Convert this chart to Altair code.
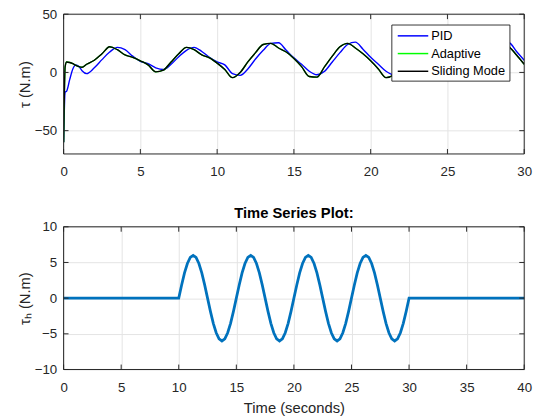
import altair as alt
import pandas as pd

# ---------------- top panel data ----------------
T_TOP = [0, 0.1, 0.2, 0.4, 0.6, 0.8, 1.0, 1.2, 1.5, 2.0, 2.5, 3.0, 3.5, 4.0, 4.5,
         5.0, 5.5, 6.0, 6.5, 7.0, 7.5, 8.0, 8.5, 9.0, 9.5, 10.0, 10.5, 11.0, 11.5,
         12.0, 12.5, 13.0, 13.5, 14.0, 14.5, 15.0, 15.5, 16.0, 16.5, 17.0, 17.5,
         18.0, 18.5, 19.0, 19.5, 20.0, 20.5, 21.0, 21.5, 22.0, 22.5, 23.0, 23.5,
         24.0, 24.5, 25.0, 25.5, 26.0, 26.5, 27.0, 27.5, 28.0, 28.5, 29.0, 29.5, 30.0]

PID = [-60, -17, -16, -6, 3, 6.5, 5, 1.5, -1, 4, 11, 17.5, 21.5, 19.5, 14,
       9.5, 7.5, 4, 2.5, 7, 13.5, 19, 21.5, 18, 13, 9, 6.5, -1, -2.5,
       3, 11.5, 19, 25, 25.5, 19, 12.5, 7, 1, -2, 1, 9,
       17, 24, 26, 20, 13, 7, 1, -2, 2, 10, 18, 24,
       26, 20, 13, 7, 1, -2, 2, 10, 18, 24, 25.5, 18, 10.5]

ADAPTIVE = [-60, 5, 9, 8.5, 7.5, 6, 5, 4.5, 7, 10.5, 16, 22, 19.5, 15, 13,
            10, 6.5, 0.5, 2, 9, 16, 21.5, 19.5, 15, 12.5, 8, 2.5, -4.5, 0,
            9, 17, 24, 25, 21, 17.5, 12, 5, -3.5, -4, 5, 14,
            22, 25, 21, 16, 10, 3, -4.5, -2, 8, 16, 23, 25,
            21, 17, 11, 4, -4.5, -2, 6, 15, 22, 25, 22, 15, 7]

SLIDING = [-60, 5, 9, 8.5, 7.5, 6, 5, 4.5, 7, 10.5, 16, 22, 19.5, 15, 13,
           10, 6.5, 0.5, 2, 9, 16, 21.5, 19.5, 15, 12.5, 8, 2.5, -4.5, 0,
           9, 17, 24, 25, 21, 17.5, 12, 5, -3.5, -4, 5, 14,
           22, 25, 21, 16, 10, 3, -4.5, -2, 8, 16, 23, 25,
           21, 17, 11, 4, -4.5, -2, 6, 15, 22, 25, 22, 15, 7]

SERIES = ["PID", "Adaptive", "Sliding Mode"]
COLORS = ["#0000FF", "#00FF00", "#000000"]

TOP_XTICKS = [0, 5, 10, 15, 20, 25, 30]
TOP_YTICKS = [-50, 0, 50]

# ---------------- bottom panel data ----------------
T_BOT = [0, 10.0, 10.25, 10.5, 10.75, 11.0, 11.25, 11.5, 11.75, 12.0, 12.25, 12.5, 12.75,
         13.0, 13.25, 13.5, 13.75, 14.0, 14.25, 14.5, 14.75,
         15.0, 15.25, 15.5, 15.75, 16.0, 16.25, 16.5, 16.75, 17.0, 17.25, 17.5, 17.75,
         18.0, 18.25, 18.5, 18.75, 19.0, 19.25, 19.5, 19.75,
         20.0, 20.25, 20.5, 20.75, 21.0, 21.25, 21.5, 21.75, 22.0, 22.25, 22.5, 22.75,
         23.0, 23.25, 23.5, 23.75, 24.0, 24.25, 24.5, 24.75,
         25.0, 25.25, 25.5, 25.75, 26.0, 26.25, 26.5, 26.75, 27.0, 27.25, 27.5, 27.75,
         28.0, 28.25, 28.5, 28.75, 29.0, 29.25, 29.5, 29.75, 30.0, 40]

TAU_H = [0, 0, 1.85, 3.53, 4.85, 5.71, 6.0, 5.71, 4.85, 3.53, 1.85, 0, -1.85,
         -3.53, -4.85, -5.71, -6.0, -5.71, -4.85, -3.53, -1.85,
         0, 1.85, 3.53, 4.85, 5.71, 6.0, 5.71, 4.85, 3.53, 1.85, 0, -1.85,
         -3.53, -4.85, -5.71, -6.0, -5.71, -4.85, -3.53, -1.85,
         0, 1.85, 3.53, 4.85, 5.71, 6.0, 5.71, 4.85, 3.53, 1.85, 0, -1.85,
         -3.53, -4.85, -5.71, -6.0, -5.71, -4.85, -3.53, -1.85,
         0, 1.85, 3.53, 4.85, 5.71, 6.0, 5.71, 4.85, 3.53, 1.85, 0, -1.85,
         -3.53, -4.85, -5.71, -6.0, -5.71, -4.85, -3.53, -1.85, 0, 0]

BOT_XTICKS = [0, 5, 10, 15, 20, 25, 30, 35, 40]
BOT_YTICKS = [-10, -5, 0, 5, 10]

FONT = "Liberation Sans"
TXT = "#262626"
FRAME = "#262626"
W = 468
H_TOP, H_BOT = 142, 145
TICK = 5


def frame_layers(w, h, xticks, yticks, xenc_axis, yenc_axis, xscale, yscale):
    """Box around the plot area plus MATLAB-style inward ticks on all four sides."""
    box = (
        alt.Chart(pd.DataFrame({"k": [0]}))
        .mark_rect(fillOpacity=0, stroke=FRAME, strokeWidth=1)
        .encode(x=alt.value(0), x2=alt.value(w), y=alt.value(0), y2=alt.value(h))
    )
    xt = pd.DataFrame({"t": xticks})
    yt = pd.DataFrame({"v": yticks})
    X = alt.X("t:Q", scale=xscale, axis=xenc_axis)
    Y = alt.Y("v:Q", scale=yscale, axis=yenc_axis)
    rule = dict(color=FRAME, strokeWidth=1)
    xb = alt.Chart(xt).mark_rule(**rule).encode(x=X, y=alt.value(h), y2=alt.value(h - TICK))
    xtp = alt.Chart(xt).mark_rule(**rule).encode(x=X, y=alt.value(0), y2=alt.value(TICK))
    yl = alt.Chart(yt).mark_rule(**rule).encode(y=Y, x=alt.value(0), x2=alt.value(TICK))
    yr = alt.Chart(yt).mark_rule(**rule).encode(y=Y, x=alt.value(w - TICK), x2=alt.value(w))
    return [box, xb, xtp, yl, yr]


# ---------------- top panel ----------------
df_top = pd.DataFrame({
    "t": T_TOP * 3,
    "v": PID + ADAPTIVE + SLIDING,
    "s": ["PID"] * len(T_TOP) + ["Adaptive"] * len(T_TOP) + ["Sliding Mode"] * len(T_TOP),
})

xs_top = alt.Scale(domain=[0, 30], nice=False)
ys_top = alt.Scale(domain=[-70, 50], nice=False)
xax_top = alt.Axis(values=TOP_XTICKS, title=None)
yax_top = alt.Axis(values=TOP_YTICKS, title="τ (N.m)")
cscale = alt.Scale(domain=SERIES, range=COLORS)

lines = [
    alt.Chart(df_top)
    .transform_filter(alt.datum.s == name)
    .mark_line(strokeWidth=1.4, interpolate="monotone", clip=True)
    .encode(
        x=alt.X("t:Q", scale=xs_top, axis=xax_top),
        y=alt.Y("v:Q", scale=ys_top, axis=yax_top),
        color=alt.Color("s:N", scale=cscale, legend=None),
    )
    for name in SERIES
]

# legend drawn inside the plot (box, line samples, labels)
LEG_X0, LEG_X1, LEG_Y0, LEG_Y1 = 333.5, 453.5, 11, 68
df_leg = pd.DataFrame({"s": SERIES, "i": list(range(len(SERIES)))})
leg_box = (
    alt.Chart(pd.DataFrame({"k": [0]}))
    .mark_rect(fill="white", stroke="black", strokeWidth=0.8)
    .encode(x=alt.value(LEG_X0), x2=alt.value(LEG_X1), y=alt.value(LEG_Y0), y2=alt.value(LEG_Y1))
)
leg_base = alt.Chart(df_leg).transform_calculate(ly="22 + datum.i * 18")
leg_lines = leg_base.mark_rule(strokeWidth=1.5).encode(
    x=alt.value(339.5), x2=alt.value(370.5),
    y=alt.Y("ly:Q", scale=None),
    color=alt.Color("s:N", scale=cscale, legend=None),
)
leg_text = leg_base.mark_text(align="left", baseline="middle", font=FONT, fontSize=13,
                              color="black").encode(
    x=alt.value(373.5), y=alt.Y("ly:Q", scale=None), text="s:N"
)

top = alt.layer(
    *lines, leg_box, leg_lines, leg_text,
    *frame_layers(W, H_TOP, TOP_XTICKS, TOP_YTICKS, xax_top, yax_top, xs_top, ys_top),
).properties(width=W, height=H_TOP)

# ---------------- bottom panel ----------------
df_bot = pd.DataFrame({"t": T_BOT, "v": TAU_H})
xs_bot = alt.Scale(domain=[0, 40], nice=False)
ys_bot = alt.Scale(domain=[-10, 10], nice=False)
xax_bot = alt.Axis(values=BOT_XTICKS, title="Time (seconds)")
yax_bot = alt.Axis(values=BOT_YTICKS, title="τₕ (N.m)")

bline = (
    alt.Chart(df_bot)
    .mark_line(color="#0072BD", strokeWidth=2.8)
    .encode(x=alt.X("t:Q", scale=xs_bot, axis=xax_bot),
            y=alt.Y("v:Q", scale=ys_bot, axis=yax_bot))
)

bot = alt.layer(
    bline, *frame_layers(W, H_BOT, BOT_XTICKS, BOT_YTICKS, xax_bot, yax_bot, xs_bot, ys_bot)
).properties(
    width=W, height=H_BOT,
    title=alt.TitleParams("Time Series Plot:", font=FONT, fontSize=15, fontWeight="bold",
                          color="black", offset=-1.5, frame="group"),
)

chart = (
    alt.vconcat(top, bot, spacing=28)
    .properties(padding={"left": 9.5, "top": -4, "right": 5, "bottom": 0})
    .configure_view(stroke=None)
    .configure_axis(
        labelFont=FONT, labelFontSize=13.5, labelColor=TXT, labelFlush=False,
        titleFont=FONT, titleFontSize=15, titleColor=TXT, titleFontWeight="normal",
        gridColor="#E3E3E3", gridWidth=1, domain=False, ticks=False,
    )
    .configure_axisX(labelPadding=11, titlePadding=7.5)
    .configure_axisY(labelPadding=7, titleX=-39.5, titleBaseline="middle")
)

chart.save("out.html", embed_options={"renderer": "svg", "actions": False})
